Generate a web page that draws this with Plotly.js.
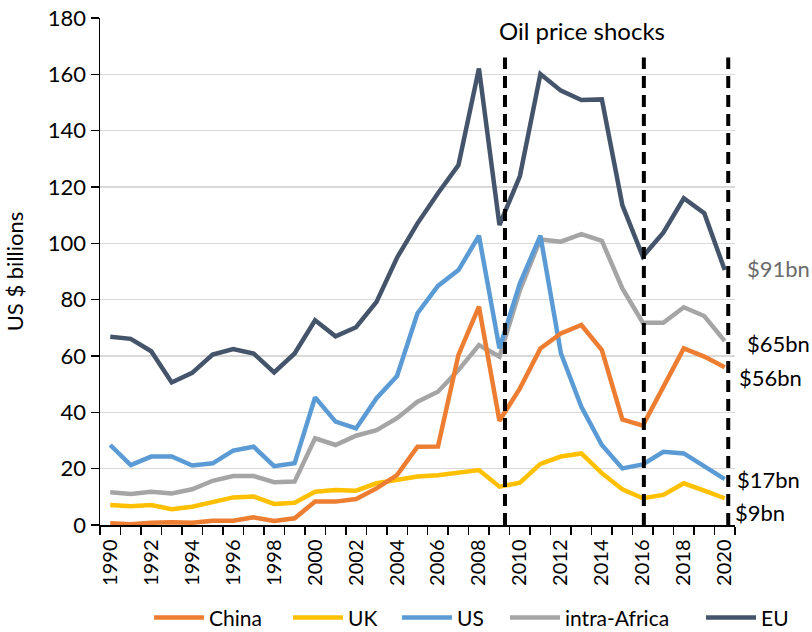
<!DOCTYPE html>
<html>
<head>
<meta charset="utf-8">
<script src="https://cdn.plot.ly/plotly-3.0.1.min.js"></script>
<style>html,body{margin:0;padding:0;background:#fff;}#chart{width:812px;height:632px;}</style>
</head>
<body>
<div id="chart"></div>
<script>
const years = [1990,1991,1992,1993,1994,1995,1996,1997,1998,1999,2000,2001,2002,2003,2004,2005,2006,2007,2008,2009,2010,2011,2012,2013,2014,2015,2016,2017,2018,2019,2020];
const china = [0.6,0.3,0.8,1.0,0.8,1.5,1.5,2.7,1.4,2.4,8.3,8.3,9.2,13.0,17.7,27.8,27.9,60.4,77.5,37.0,48.5,62.7,68.0,71.0,62.1,37.5,35.3,49.1,62.7,59.8,56.0];
const uk = [7.1,6.7,7.1,5.6,6.5,8.3,9.8,10.1,7.5,7.9,11.8,12.4,12.2,14.8,16.2,17.2,17.7,18.4,19.5,13.6,15.0,21.7,24.3,25.4,18.4,12.7,9.5,10.7,14.8,12.2,9.5];
const us = [28.4,21.3,24.3,24.3,21.1,21.9,26.4,27.8,20.9,21.9,45.3,36.7,34.3,45.0,52.9,75.2,84.9,90.5,102.7,62.7,85.8,102.7,61.0,42.0,28.4,20.1,21.5,26.0,25.4,20.7,16.3];
const intraAfrica = [11.6,11.0,11.8,11.2,12.7,15.7,17.4,17.4,15.2,15.4,30.8,28.4,31.7,33.7,37.9,43.8,47.3,55.0,63.9,59.8,83.4,101.4,100.6,103.3,100.9,84.0,71.8,71.8,77.3,74.2,65.3];
const eu = [66.8,66.1,61.7,50.6,54.0,60.5,62.5,60.9,54.2,60.9,72.7,67.0,70.2,79.2,94.9,107.1,117.8,127.8,162.1,106.5,123.9,160.1,154.2,150.9,151.1,113.6,95.3,103.8,116.0,110.7,90.5];

const seriesNames = ['China','UK','US','intra-Africa','EU'];
const seriesData = [china, uk, us, intraAfrica, eu];
const seriesColors = ['#ED7D31','#FFC000','#5B9BD5','#A5A5A5','#44546A'];
const seriesLegend = ['legend','legend2','legend3','legend4','legend5'];
const legendX = [0.0772, 0.296, 0.4677, 0.6378, 0.9465];

const tickYears = [1990,1992,1994,1996,1998,2000,2002,2004,2006,2008,2010,2012,2014,2016,2018,2020];
const yTicks = [0,20,40,60,80,100,120,140,160,180];

const shockYears = [2009.27, 2016.05, 2020.17];
const shockTop = 166;
const shockTitle = 'Oil price shocks';

const endLabels = ['$91bn','$65bn','$56bn','$17bn','$9bn'];
const endLabelY = [90.9, 64.6, 52.2, 16.3, 4.3];
const endLabelColors = ['#6b6b6b','#000','#000','#000','#000'];
const endLabelShift = [20, 20, 12, 10, 8];

const FONT = 'Lato, "Open Sans", sans-serif';

const drawOrder = [4,3,2,1,0];
const traces = drawOrder.map(i => ({
  type: 'scatter', mode: 'lines',
  x: years, y: seriesData[i], name: seriesNames[i],
  line: {color: seriesColors[i], width: 4.5},
  legend: seriesLegend[i]
}));

const boundaries = [];
for (let k = 0; k <= years.length; k++) boundaries.push(years[0] - 0.5 + k);

const shapes = shockYears.map(x => ({
  type: 'line', xref: 'x', yref: 'y', x0: x, x1: x, y0: 0, y1: shockTop,
  line: {color: '#000', width: 4, dash: '12px,7px'}, layer: 'above'
}));

const annotations = [{
  text: shockTitle, xref: 'paper', yref: 'paper', x: 0.759, y: 0.976,
  xanchor: 'center', yanchor: 'middle', showarrow: false,
  font: {family: FONT, size: 24, color: '#000'}
}].concat(endLabels.map((t, i) => ({
  text: t, xref: 'x', yref: 'y', x: years[years.length - 1], y: endLabelY[i],
  xanchor: 'left', yanchor: 'middle', xshift: endLabelShift[i], showarrow: false,
  font: {family: FONT, size: 22, color: endLabelColors[i]}
})));

const legendFont = {family: FONT, size: 21, color: '#000'};

const layout = {
  width: 812, height: 632,
  margin: {l: 100, r: 77, t: 18, b: 107, pad: 0, autoexpand: false},
  paper_bgcolor: '#fff', plot_bgcolor: '#fff',
  showlegend: true,
  xaxis: {
    range: [1989.5, 2020.5], showgrid: false, zeroline: false,
    showline: true, linecolor: '#000', linewidth: 1.5,
    tickmode: 'array', tickvals: tickYears, ticktext: tickYears.map(String),
    ticks: '', tickangle: -90, ticklabelstandoff: 5,
    tickfont: {family: FONT, size: 20, color: '#000'},
    minor: {tickmode: 'array', tickvals: boundaries, ticks: 'outside', ticklen: 8, tickcolor: '#000', tickwidth: 1.5, showgrid: false}
  },
  yaxis: {
    range: [0, 180], tickmode: 'array', tickvals: yTicks,
    showgrid: true, gridcolor: '#d9d9d9', gridwidth: 1.3, zeroline: false,
    showline: true, linecolor: '#000', linewidth: 1.5,
    ticks: 'outside', ticklen: 8, tickcolor: '#000', tickwidth: 1.5,
    tickfont: {family: FONT, size: 22, color: '#000'},
    title: {text: 'US $ billions', font: {family: FONT, size: 22, color: '#000'}, standoff: 18}
  },
  shapes: shapes,
  annotations: annotations
};
seriesLegend.forEach((name, i) => {
  layout[name] = {orientation: 'h', xanchor: 'left', x: legendX[i], y: -0.183, yanchor: 'middle', font: legendFont, itemwidth: 50};
});

Plotly.newPlot('chart', traces, layout, {displayModeBar: false, staticPlot: true});
</script>
</body>
</html>
